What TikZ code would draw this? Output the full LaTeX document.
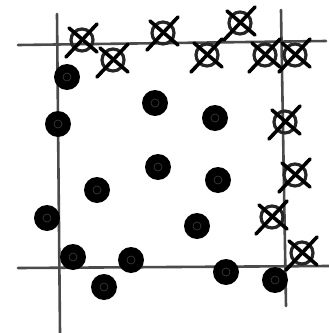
\documentclass[tikz,border=0pt]{standalone}
\usepackage{tikz}
\usetikzlibrary{calc}
\definecolor{penline}{RGB}{75,75,75}

\tikzset{
  axisline/.style={penline,line width=2.6pt,line cap=round},
  inkdot/.style={fill=black},
  ring/.style={black!85,line width=3.2pt},
  crossstroke/.style={black,line width=3.6pt,line cap=round}
}

\begin{document}
\begin{tikzpicture}[x=1pt,y=-1pt]
\useasboundingbox (0,0) rectangle (329,333);
% sketched frame lines
\draw[axisline] (57,14) -- (60,333);
\draw[axisline] (18,45) -- (326,41);
\draw[axisline] (281,10) -- (286,306);
\draw[axisline] (18,268) -- (329,266);
% filled points
\foreach \x/\y in {67/77,58/124,155/103,215/118,158/167,218/180,97/190,
  47/218,197/226,73/257,131/260,104/287,226/272,275/280}{
  \fill[inkdot] (\x,\y) circle (13);
  \draw[black!75,line width=0.6pt] (\x,\y) circle (4);
}
% crossed-out points
\foreach \x/\y in {82/40,113/60,163/33,207/55,240/23,265/55,295/55,
  285/122,295/175,272/217,302/253}{
  \draw[ring] (\x,\y) circle (11);
  \draw[crossstroke] (\x-16,\y+17) -- (\x+15,\y-16);
  \draw[crossstroke] (\x-13,\y-12) -- (\x+15,\y+12);
}
\end{tikzpicture}
\end{document}
